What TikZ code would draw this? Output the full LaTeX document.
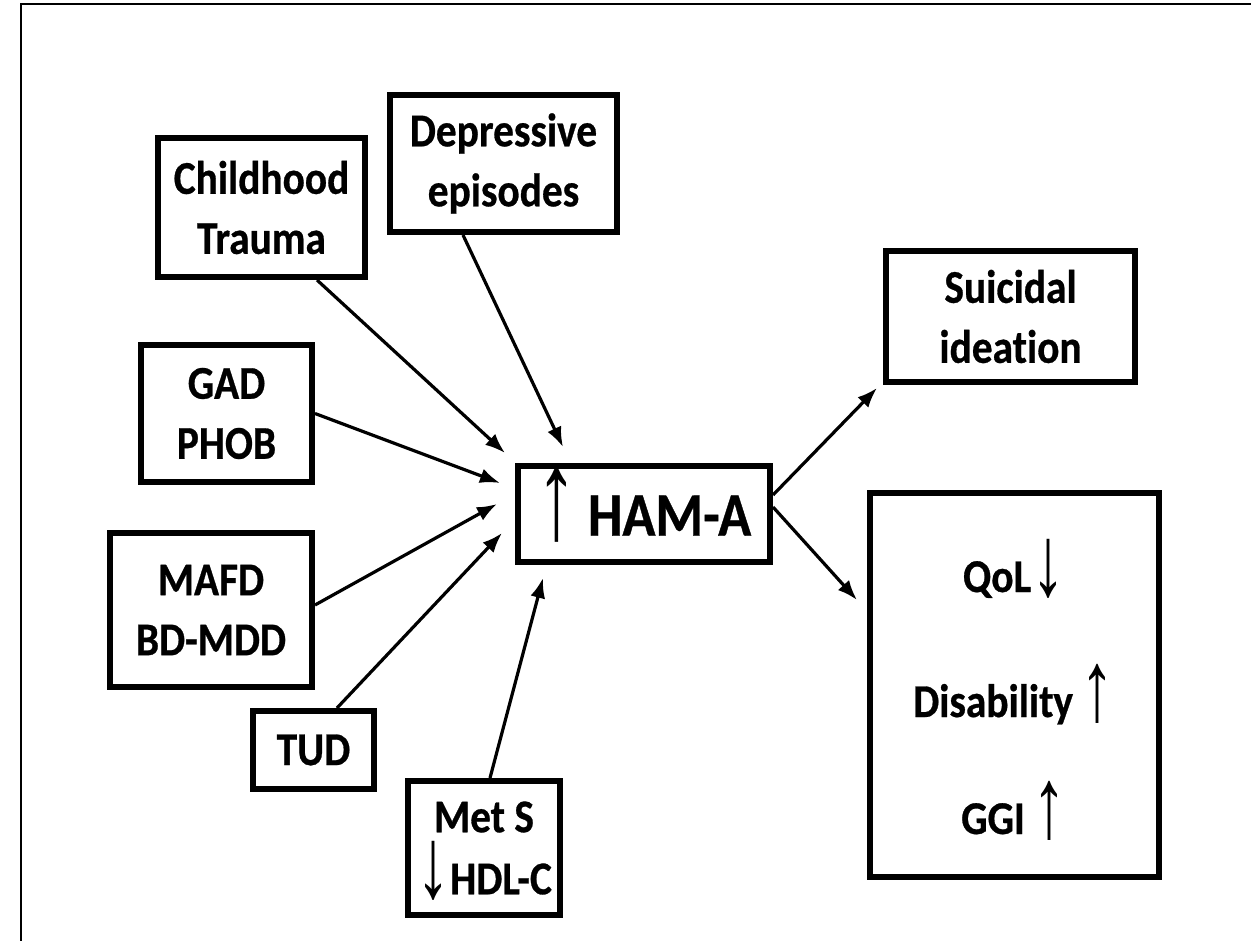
\documentclass[tikz,border=0pt]{standalone}
\usepackage{graphicx}
\usepackage{fontspec}
\setmainfont{Carlito}[Ligatures=NoCommon, FakeStretch=0.88, BoldFeatures={FakeBold=0.6}]
\newfontfamily\arrowfont{Liberation Sans}
\usetikzlibrary{arrows.meta}

% thin arrow glyphs used inside the labels, stretched to full label height
\newcommand\tallarrow[3]{\raisebox{-3pt}[0.7em][0pt]{\scalebox{0.85}[#2]{\arrowfont\mdseries\fontsize{#1}{#1}\selectfont #3}}}
\newcommand\uarr{\tallarrow{80}{1.25}{↑}}
\newcommand\darr{\tallarrow{80}{1.25}{↓}}

\begin{document}
\begin{tikzpicture}[x=1pt,y=-1pt,
  box/.style={draw, line width=6pt, inner sep=0pt, align=center,
    font=\bfseries\fontsize{47}{60}\selectfont},
  lbl/.style={inner sep=0pt, anchor=base, font=\bfseries\fontsize{47}{60}\selectfont},
  conn/.style={line width=3.2pt, -{Latex[length=20pt,width=15pt]}}]
\useasboundingbox (0,0) rectangle (1251,941);

% frame
\draw[line width=2.5pt] (21,941) -- (21,4) -- (1251,4);

% causes
\node[box, minimum width=207pt, minimum height=139pt] (ct)   at (261.5,207.5) {Childhood\\Trauma};
\node[box, minimum width=227pt, minimum height=137pt] (de)   at (503.5,163.5) {Depressive\\episodes};
\node[box, minimum width=171pt, minimum height=137pt] (gad)  at (226.5,413.5) {GAD\\PHOB};
\node[box, minimum width=202pt, minimum height=154pt] (mafd) at (211,610)     {MAFD\\BD-MDD};
\node[box, minimum width=121pt, minimum height=78pt]  (tud)  at (313.5,750)   {TUD};
\node[box, minimum width=152pt, minimum height=134pt] (met)  at (484,848)     {Met S\\[2pt]\darr HDL-C};

% centre
\node[box, minimum width=252pt, minimum height=96pt,
      font=\bfseries\fontsize{62}{60}\selectfont] (ham) at (644,514)
      {\tallarrow{96}{1.35}{↑}\,HAM-A};

% consequences
\node[box, minimum width=249pt, minimum height=131pt] (sui) at (1010.5,316.5) {Suicidal\\ideation};
\node[box, minimum width=289pt, minimum height=384pt] (out) at (1014.5,685) {};
\node[lbl] (qol) at (1014,592) {QoL\darr};
\node[lbl] (dis) at (1014,717) {Disability\,\uarr};
\node[lbl] (ggi) at (1014,834) {GGI\,\uarr};

% arrow tips
\coordinate (t1) at (505,453);
\coordinate (t2) at (563,447);
\coordinate (t3) at (500,483);
\coordinate (t4) at (497,504);
\coordinate (t5) at (502,533);
\coordinate (t6) at (543,578);
\coordinate (t7) at (877,388);
\coordinate (t8) at (857,600);

\draw[conn] ([xshift=55.5pt]ct.south) -- (t1);
\draw[conn] ([xshift=-40.5pt]de.south) -- (t2);
\draw[conn] (gad.east) -- (t3);
\draw[conn] ([yshift=5pt]mafd.east) -- (t4);
\draw[conn] ([xshift=23.5pt]tud.north) -- (t5);
\draw[conn] ([xshift=6pt]met.north) -- (t6);
\draw[conn] ([yshift=19pt]ham.east) -- (t7);
\draw[conn] ([yshift=7pt]ham.east) -- (t8);
\end{tikzpicture}
\end{document}
